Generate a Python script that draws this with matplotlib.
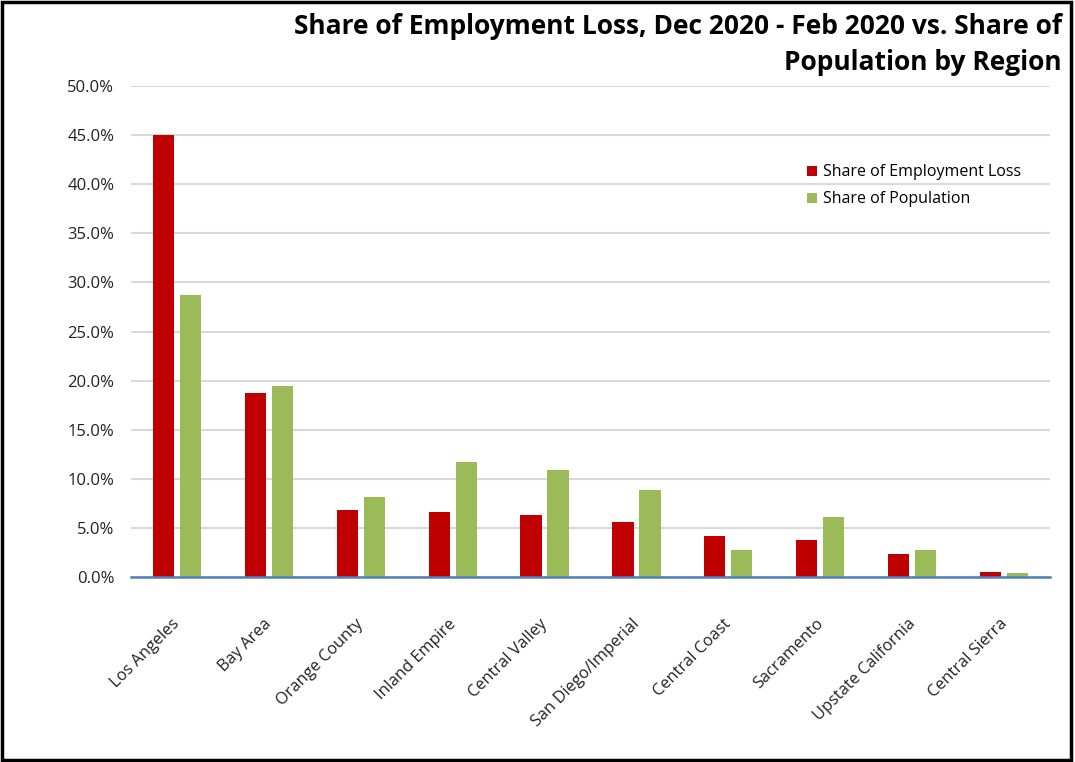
"""Share of employment loss vs share of population by region"""

import numpy as np
import matplotlib.pyplot as plt
import matplotlib.transforms as mtransforms
from matplotlib.ticker import PercentFormatter
from matplotlib.patches import Rectangle

regions = ["Los Angeles", "Bay Area", "Orange County", "Inland Empire",
           "Central Valley", "San Diego/Imperial", "Central Coast",
           "Sacramento", "Upstate California", "Central Sierra"]
emp_loss = [45.0, 18.7, 6.8, 6.6, 6.3, 5.6, 4.2, 3.8, 2.3, 0.5]
population = [28.7, 19.5, 8.1, 11.7, 10.9, 8.9, 2.7, 6.1, 2.8, 0.4]

plt.rcParams['font.family'] = ['Open Sans', 'DejaVu Sans']


def plot_chart():
    fig = plt.figure(figsize=(10.75, 7.62), dpi=100)
    ax = fig.add_axes([131 / 1075, 1 - 577 / 762, 919 / 1075, 491 / 762])

    x = np.arange(len(regions))
    w = 0.23
    ax.bar(x - 0.147, emp_loss, w, color="#c00000", label="Share of Employment Loss", zorder=3)
    ax.bar(x + 0.147, population, w, color="#9bbb59", label="Share of Population", zorder=3)

    ax.set_xlim(-0.5, len(regions) - 0.5)
    ax.set_ylim(0, 50)
    ax.set_yticks(np.arange(0, 50.1, 5))
    ax.yaxis.set_major_formatter(PercentFormatter(decimals=1))
    ax.grid(axis="y", color="#d9d9d9", linewidth=1.5, zorder=0)
    for s in ["top", "right", "left"]:
        ax.spines[s].set_visible(False)
    ax.spines["bottom"].set_color("#4f81bd")
    ax.spines["bottom"].set_linewidth(1.8)
    ax.spines["bottom"].set_zorder(4)
    ax.tick_params(axis="both", length=0, labelsize=12, colors="#222222")
    ax.tick_params(axis="y", pad=12)
    ax.tick_params(axis="x", pad=28)
    ax.set_xticks(x)
    ax.set_xticklabels(regions, rotation=45, ha="right", rotation_mode="anchor",
                       fontsize=11.8)
    shift = mtransforms.ScaledTranslation(-5 / 100, 0, fig.dpi_scale_trans)
    for lbl in ax.get_xticklabels():
        lbl.set_transform(lbl.get_transform() + shift)

    ax.legend(loc="upper left", bbox_to_anchor=(0.72, 0.87), frameon=False,
              fontsize=11.5, handlelength=0.6, handleheight=0.6,
              handletextpad=0.4, labelspacing=0.7)

    fig.text(1062 / 1075, 1 - 27 / 762, "Share of Employment Loss, Dec 2020 - Feb 2020 vs. Share of",
             ha="right", va="center", fontsize=19, fontweight="bold")
    fig.text(1062 / 1075, 1 - 63 / 762, "Population by Region",
             ha="right", va="center", fontsize=19, fontweight="bold")

    fig.patches.append(Rectangle((0.002, 0.003), 0.994, 0.994, transform=fig.transFigure,
                                 fill=False, edgecolor="black", linewidth=2.5))
    fig.savefig("out.png", dpi=100)


if __name__ == "__main__":
    plot_chart()
